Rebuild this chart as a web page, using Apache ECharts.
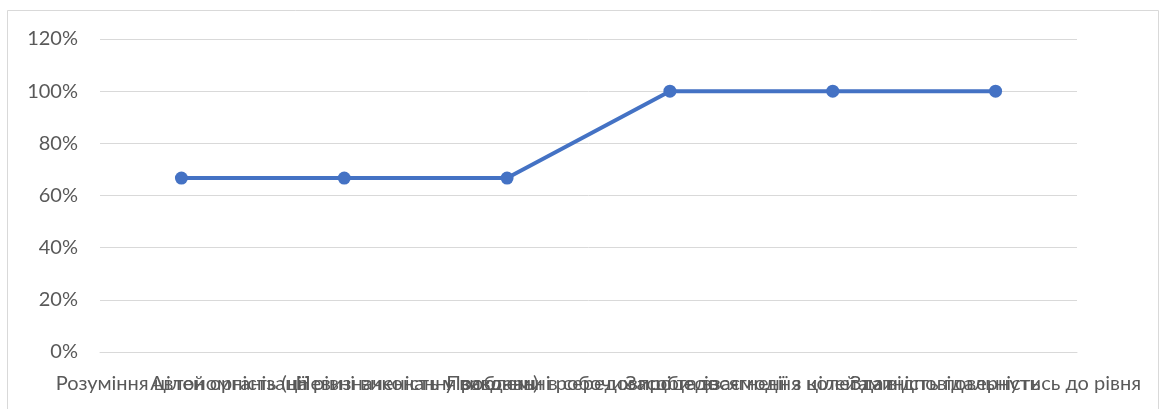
<!DOCTYPE html>
<html>
<head>
<meta charset="utf-8">
<script src="https://cdn.jsdelivr.net/npm/echarts@6/dist/echarts.min.js"></script>
<style>
html,body{margin:0;padding:0;background:#fff;}
#chart{width:1166px;height:409px;}
</style>
</head>
<body>
<div id="chart"></div>
<script>
var categories = [
  "Розуміння цілей організації",
  "Автономність (на рівні виконання завдань)",
  "Невизначеність у виконанні робочих процесів",
  "Проблеми в середовищі та взаємодії з колегами",
  "Засоби досягнення цілей та відповідальність",
  "Здатність повернутись до рівня"
];
var values = [66.67, 66.67, 66.67, 100, 100, 100];
var yTicks = { min: 0, max: 120, interval: 20 };

var chart = echarts.init(document.getElementById('chart'), null, {renderer: 'canvas'});
var font = 'Lato, "Noto Sans", sans-serif';
chart.setOption({
  animation: false,
  backgroundColor: '#ffffff',
  graphic: [{
    type: 'rect',
    shape: { x: 7.5, y: 10.5, width: 1151, height: 420 },
    style: { fill: 'none', stroke: '#d9d9d9', lineWidth: 1 },
    silent: true
  }],
  grid: { left: 100, right: 89, top: 39, bottom: 57, containLabel: false, outerBoundsMode: 'none' },
  xAxis: {
    type: 'category',
    data: categories,
    boundaryGap: true,
    axisLine: { show: true, lineStyle: { color: '#d9d9d9', width: 1 } },
    axisTick: { show: false },
    axisLabel: {
      interval: 0,
      color: '#595959',
      fontSize: 20,
      fontFamily: font,
      margin: 22,
      hideOverlap: false
    },
    splitLine: { show: false }
  },
  yAxis: {
    type: 'value',
    min: yTicks.min,
    max: yTicks.max,
    interval: yTicks.interval,
    axisLine: { show: false },
    axisTick: { show: false },
    axisLabel: {
      color: '#595959',
      fontSize: 20,
      fontFamily: font,
      margin: 22,
      formatter: '{value}%'
    },
    splitLine: { show: true, lineStyle: { color: '#d9d9d9', width: 1 } }
  },
  series: [{
    type: 'line',
    data: values,
    symbol: 'circle',
    symbolSize: 13,
    lineStyle: { color: '#4472C4', width: 4 },
    itemStyle: { color: '#4472C4' }
  }]
});
</script>
</body>
</html>
